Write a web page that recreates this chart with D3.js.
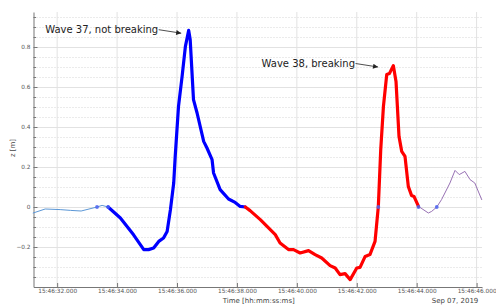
<!DOCTYPE html>
<html>
<head>
<meta charset="utf-8">
<script src="https://cdn.jsdelivr.net/npm/d3@7"></script>
<style>
  body { margin: 0; background: #fff; }
  svg { display: block; font-family: "DejaVu Sans", sans-serif; }
  .grid-major line { stroke: #e2e2e2; stroke-width: 1; }
  .grid-minor line { stroke: #d6d6d6; stroke-width: 1; stroke-dasharray: 1,2; }
  .axis path, .axis line { stroke: #777; }
  .axis text { fill: #555; font-size: 5.8px; font-family: "DejaVu Sans", sans-serif; }
</style>
</head>
<body>
<svg width="496" height="308"></svg>
<script>
// seconds after 15:46:00, Sep 07 2019
var approachT = [31.2, 31.6, 32.1, 32.45, 32.8, 33.33, 33.5, 33.7];
var approachZ = [-0.03, -0.01, -0.013, -0.017, -0.02, 0.0, 0.008, 0.0];

var wave37T = [33.7, 34.11, 34.55, 34.89, 35.05, 35.22, 35.39, 35.55, 35.67, 35.78, 35.89, 35.94,
               36.05, 36.17, 36.28, 36.39, 36.44, 36.55, 36.67, 36.89, 37.0, 37.17, 37.22, 37.44,
               37.72, 37.94, 38.11, 38.28];
var wave37Z = [0.0, -0.055, -0.139, -0.213, -0.213, -0.205, -0.172, -0.155, -0.122, -0.014, 0.12, 0.253,
               0.503, 0.653, 0.803, 0.883, 0.837, 0.537, 0.47, 0.328, 0.295, 0.237, 0.17, 0.087,
               0.04, 0.023, 0.003, 0.0];

var wave38T = [38.28, 38.44, 38.78, 39.28, 39.44, 39.72, 39.89, 40.11, 40.39, 40.61, 40.83, 41.11,
               41.28, 41.44, 41.61, 41.78, 42.0, 42.11, 42.28, 42.44, 42.61, 42.72, 42.8, 42.89,
               43.0, 43.09, 43.22, 43.31, 43.41, 43.5, 43.61, 43.72, 43.83, 43.91, 44.06];
var wave38Z = [0.0, -0.018, -0.063, -0.138, -0.18, -0.213, -0.213, -0.23, -0.218, -0.238, -0.255, -0.293,
               -0.305, -0.338, -0.333, -0.363, -0.305, -0.302, -0.247, -0.238, -0.172, 0.003, 0.287, 0.503,
               0.662, 0.667, 0.707, 0.628, 0.353, 0.278, 0.253, 0.103, 0.057, 0.053, 0.003];

var tailT = [44.06, 44.39, 44.5, 44.67, 44.83, 45.11, 45.28, 45.42, 45.61, 45.78, 45.94, 46.17];
var tailZ = [0.003, -0.03, -0.022, 0.0, 0.037, 0.12, 0.183, 0.162, 0.178, 0.137, 0.12, 0.037];

// zero crossings marked with dots
var markerT = [33.33, 33.7, 42.72, 44.06, 44.67];

var annoLabels = ['Wave 37, not breaking', 'Wave 38, breaking'];
var annoT = [36.14, 42.71];
var annoZ = [0.869, 0.70];

var yMajor = [-0.2, 0, 0.2, 0.4, 0.6, 0.8];

var svg = d3.select('svg');
var margin = {top: 12, right: 14, bottom: 21, left: 33.5};
var width = +svg.attr('width'),
    height = +svg.attr('height');

function toDate(s) { return new Date(2019, 8, 7, 15, 46, 0, Math.round(s * 1000)); }

var x = d3.scaleTime()
    .domain([toDate(31.21), toDate(46.18)])
    .range([margin.left, width - margin.right]);
var y = d3.scaleLinear()
    .domain([-0.4, 0.975])
    .range([height - margin.bottom, margin.top]);

var xTicks = d3.range(32, 47, 2).map(toDate);
var yMinor = d3.range(-0.35, 0.96, 0.05).map(function(d) { return Math.round(d * 100) / 100; })
    .filter(function(d) { return yMajor.indexOf(d) < 0; });

// grid
svg.append('g').attr('class', 'grid-minor')
  .selectAll('line').data(yMinor).enter().append('line')
    .attr('x1', margin.left).attr('x2', width - margin.right)
    .attr('y1', function(d) { return y(d) + 0.5; }).attr('y2', function(d) { return y(d) + 0.5; });
var gm = svg.append('g').attr('class', 'grid-major');
gm.selectAll('line.h').data(yMajor).enter().append('line').attr('class', 'h')
    .attr('x1', margin.left).attr('x2', width - margin.right)
    .attr('y1', function(d) { return y(d) + 0.5; }).attr('y2', function(d) { return y(d) + 0.5; });
gm.selectAll('line.v').data(xTicks).enter().append('line').attr('class', 'v')
    .attr('x1', function(d) { return x(d); }).attr('x2', function(d) { return x(d); })
    .attr('y1', margin.top).attr('y2', height - margin.bottom);

// axes
svg.append('g').attr('class', 'axis')
    .attr('transform', 'translate(' + margin.left + ',0)')
    .call(d3.axisLeft(y).tickValues(yMajor).tickSize(-4).tickSizeOuter(0).tickPadding(3)
        .tickFormat(function(d) { return d === 0 ? '0' : d3.format('.1f')(d); }));
svg.append('g').attr('class', 'axis')
    .attr('transform', 'translate(' + margin.left + ',0)')
    .call(d3.axisLeft(y).tickValues(yMinor).tickSize(-2.5).tickSizeOuter(0).tickFormat(''))
    .select('.domain').remove();
svg.append('g').attr('class', 'axis')
    .attr('transform', 'translate(0,' + (height - margin.bottom) + ')')
    .call(d3.axisBottom(x).tickValues(xTicks).tickSize(-4).tickSizeOuter(0).tickPadding(2)
        .tickFormat(d3.timeFormat('%H:%M:%S.%L')));

svg.append('text')
    .attr('x', (margin.left + width - margin.right) / 2 + 1)
    .attr('y', 302.5)
    .attr('text-anchor', 'middle')
    .style('font-size', '7px').style('fill', '#444')
    .text('Time [hh:mm:ss:ms]');
svg.append('text')
    .attr('x', 455)
    .attr('y', 302.5)
    .attr('text-anchor', 'middle')
    .style('font-size', '7px').style('fill', '#444')
    .text('Sep 07, 2019');
svg.append('text')
    .attr('transform', 'translate(14.5,148) rotate(-90)')
    .attr('text-anchor', 'middle')
    .style('font-size', '7px').style('fill', '#444')
    .text('z [m]');

// series
var line = d3.line()
    .x(function(d) { return x(toDate(d[0])); })
    .y(function(d) { return y(d[1]); });

function pairs(t, z) { return t.map(function(d, i) { return [d, z[i]]; }); }

var series = [
    {t: approachT, z: approachZ, color: '#5b97d6', w: 1},
    {t: tailT, z: tailZ, color: '#9872b4', w: 1},
    {t: wave37T, z: wave37Z, color: '#0000ff', w: 3.2},
    {t: wave38T, z: wave38Z, color: '#ff0000', w: 3.2}
];
series.forEach(function(s) {
    svg.append('path')
        .datum(pairs(s.t, s.z))
        .attr('fill', 'none')
        .attr('stroke', s.color)
        .attr('stroke-width', s.w)
        .attr('stroke-linejoin', 'round')
        .attr('stroke-linecap', 'round')
        .attr('d', line);
});

svg.selectAll('circle.mark')
    .data(markerT).enter().append('circle')
    .attr('class', 'mark')
    .attr('cx', function(d) { return x(toDate(d)); })
    .attr('cy', y(0))
    .attr('r', 1.9)
    .style('fill', '#4b63f0')
    .style('opacity', 0.85);

// annotations
svg.append('defs').append('marker')
    .attr('id', 'head')
    .attr('viewBox', '0 0 10 10')
    .attr('refX', 10).attr('refY', 5)
    .attr('markerWidth', 7).attr('markerHeight', 5)
    .attr('markerUnits', 'userSpaceOnUse')
    .attr('orient', 'auto')
  .append('path')
    .attr('d', 'M0,0L10,5L0,10z')
    .attr('fill', '#222');

annoLabels.forEach(function(lbl, i) {
    var tx = x(toDate(annoT[i])), ty = y(annoZ[i]);
    svg.append('text')
        .attr('x', tx - 23)
        .attr('y', ty)
        .attr('text-anchor', 'end')
        .style('font-size', '10px').style('fill', '#222')
        .text(lbl);
    svg.append('line')
        .attr('x1', tx - 22.5).attr('y1', ty - 3.5)
        .attr('x2', tx).attr('y2', ty)
        .attr('stroke', '#222').attr('stroke-width', 0.8)
        .attr('marker-end', 'url(#head)');
});
</script>
</body>
</html>
